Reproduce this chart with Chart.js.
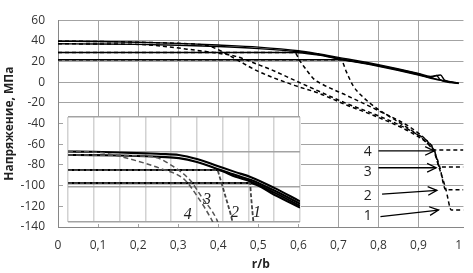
<!DOCTYPE html>
<html><head><meta charset="utf-8">
<script src="https://cdn.jsdelivr.net/npm/chart.js@4/dist/chart.umd.min.js"></script>
<style>
html,body{margin:0;padding:0;background:#fff;overflow:hidden;}
#wrap{position:relative;width:473px;height:273px;}
#main{position:absolute;left:0;top:0;}
#insetBox{position:absolute;left:63px;top:116px;width:238px;height:108px;background:#fff;}
#inset{position:absolute;left:0;top:0;}
</style></head><body>
<div id="wrap">
<canvas id="main" width="473" height="273"></canvas>
<div id="insetBox"><canvas id="inset" width="238" height="108"></canvas></div>
</div>
<script>
// ---------- main chart data (r/b, stress MPa) ----------
const xTicks = [0,0.1,0.2,0.3,0.4,0.5,0.6,0.7,0.8,0.9,1];
const yTicks = [-140,-120,-100,-80,-60,-40,-20,0,20,40,60];

// solid curves
const rS4 = [0,0.1,0.2,0.3,0.4,0.5,0.6,0.65,0.7,0.8,0.9,0.93,0.955,0.965,1];
const vS4 = [39.7,39.4,38.7,37.6,36,34,30.5,27.5,24,17,8.5,5.5,7,2,-0.8];
const rS3 = [0,0.1,0.2,0.3,0.4,0.5,0.6,0.65,0.7,0.8,0.9,0.93,0.945,0.955,1];
const vS3 = [37.2,37,36.6,35.8,34.5,32.5,29.5,26.8,23,16.3,8,4.5,6.5,2,-1];
const rS2 = [0,0.59,0.65,0.7,0.8,0.9,0.94,1];
const vS2 = [28.8,28.8,26.2,22.6,16,7.5,3.5,-1];
const rS1 = [0,0.7,0.72,0.8,0.9,0.94,1];
const vS1 = [21.8,21.8,21,15.5,7,3,-1.2];

// dashed curves
const rD4 = [0,0.1,0.2,0.3,0.35,0.383,0.42,0.45,0.5,0.59,0.65,0.72,0.8,0.883,0.925,0.937,1.012];
const vD4 = [39.7,39.4,38.7,37.6,36.6,34.3,27.5,21,10.5,-3,-10.5,-22,-34,-49,-60,-65.5,-65.5];
const rD3 = [0,0.1,0.2,0.25,0.322,0.4,0.444,0.5,0.533,0.59,0.65,0.72,0.8,0.883,0.93,0.94,0.953,1.012];
const vD3 = [37.2,37,36.6,35.3,32,28,25,17,12,2,-8.5,-20.5,-32.5,-47.5,-60,-66,-82,-82];
const rD2 = [0,0.59,0.605,0.62,0.639,0.66,0.72,0.8,0.883,0.924,0.94,0.953,0.968,1.012];
const vD2 = [28.8,28.8,20,12,3,-2,-12.7,-27.5,-44.5,-58,-67,-82,-104,-104];
const rD1 = [0,0.706,0.72,0.737,0.761,0.8,0.85,0.907,0.927,0.937,0.951,0.968,0.982,1.012];
const vD1 = [21.8,21.8,10,-3.6,-14.2,-26.4,-38.5,-53.6,-61,-65.5,-82,-103,-123.6,-123.6];

// annotation labels & arrows (main)
const mainLabels = ['4','3','2','1'];
const mainLabelR = [0.773,0.773,0.773,0.773];
const mainLabelV = [-67.3,-87.3,-110,-129];
const arrowFromR = [0.80,0.80,0.809,0.805];
const arrowFromV = [-66.4,-82.7,-108.2,-130];
const arrowToR = [0.939,0.944,0.946,0.95];
const arrowToV = [-66.4,-82.7,-104.5,-123.6];

// ---------- inset data ----------
const iS4r = [0,0.1,0.2,0.3,0.36,0.43,0.5,0.58,0.65,0.71,0.8,0.9];
const iS4v = [40.3,40.1,39.7,39.2,38.9,38.3,36,32,28.5,25.6,19.5,11.8];
const iS3r = [0,0.1,0.2,0.3,0.36,0.43,0.5,0.58,0.65,0.71,0.8,0.9];
const iS3v = [38.3,38.2,38,37.6,37.2,36.5,34.3,30.3,26.8,24,18,10.5];
const iS2r = [0,0.578,0.65,0.71,0.8,0.9];
const iS2v = [29.7,29.7,25.8,23,16.8,9.3];
const iS1r = [0,0.706,0.8,0.9];
const iS1v = [22.2,22.2,15.6,8.2];
const iD4r = [0,0.12,0.2,0.3,0.36,0.45,0.5,0.558,0.565];
const iD4v = [40.3,39.8,37.5,33.5,30.5,24.5,15,1.1,-1];
const iD3r = [0,0.3,0.35,0.4,0.473,0.52,0.578,0.583];
const iD3v = [38.3,37.6,36.5,32.5,24,14,1.1,-1];
const iD2r = [0,0.578,0.59,0.61,0.63,0.64];
const iD2v = [29.7,29.7,25,15,5,-1];
const iD1r = [0,0.706,0.71,0.716,0.72];
const iD1v = [22.2,22.2,15,5,-1];
const insetLabels = ['4','3','2','1'];
const insetLabelR = [0.465,0.539,0.648,0.733];
const insetLabelV = [4,12.5,5,5];

// ---------- helpers ----------
const pts = (r,v) => r.map((x,i)=>({x:x,y:v[i]}));
const FONT = "'Open Sans', 'DejaVu Sans', sans-serif";

function solid(r,v,w){return {data:pts(r,v),borderColor:'#000',borderWidth:w,pointRadius:0,showLine:true,fill:false,cubicInterpolationMode:'monotone'};}
function dashed(r,v,w,c,d){return {data:pts(r,v),borderColor:c,borderWidth:w,borderDash:d,pointRadius:0,showLine:true,fill:false,cubicInterpolationMode:'monotone'};}

function arrow(ctx,x1,y1,x2,y2){
  ctx.beginPath();ctx.moveTo(x1,y1);ctx.lineTo(x2,y2);ctx.stroke();
  const a=Math.atan2(y2-y1,x2-x1),L=10,W=0.45;
  ctx.beginPath();
  ctx.moveTo(x2-L*Math.cos(a-W),y2-L*Math.sin(a-W));
  ctx.lineTo(x2,y2);
  ctx.lineTo(x2-L*Math.cos(a+W),y2-L*Math.sin(a+W));
  ctx.stroke();
}

const mainAnno = {
  id:'mainAnno',
  afterDatasetsDraw(chart){
    const {ctx,scales:{x,y}}=chart;
    ctx.save();
    ctx.strokeStyle='#000';ctx.lineWidth=1.3;ctx.setLineDash([]);
    for(let i=0;i<arrowFromR.length;i++){
      arrow(ctx,x.getPixelForValue(arrowFromR[i]),y.getPixelForValue(arrowFromV[i]),
               x.getPixelForValue(arrowToR[i]),y.getPixelForValue(arrowToV[i]));
    }
    ctx.fillStyle='#222';ctx.font="14px "+FONT;ctx.textAlign='center';ctx.textBaseline='middle';
    for(let i=0;i<mainLabels.length;i++){
      ctx.fillText(mainLabels[i],x.getPixelForValue(mainLabelR[i]),y.getPixelForValue(mainLabelV[i]));
    }
    ctx.restore();
  }
};

const insetAnno = {
  id:'insetAnno',
  afterDatasetsDraw(chart){
    const {ctx,scales:{x,y}}=chart;
    ctx.save();
    ctx.fillStyle='#222';ctx.font="italic 16px 'Liberation Serif', serif";ctx.textAlign='center';ctx.textBaseline='middle';
    for(let i=0;i<insetLabels.length;i++){
      ctx.fillText(insetLabels[i],x.getPixelForValue(insetLabelR[i]),y.getPixelForValue(insetLabelV[i]));
    }
    ctx.restore();
  }
};

const fmt = v => v===0?'0':(Math.abs(v-1)<1e-9?'1':v.toFixed(1).replace('.',','));

new Chart(document.getElementById('main'),{
  type:'scatter',
  data:{datasets:[
    dashed(rD4,vD4,1.5,'#000',[4,3]),
    dashed(rD3,vD3,1.5,'#000',[4,3]),
    dashed(rD2,vD2,1.5,'#000',[4,3]),
    dashed(rD1,vD1,1.5,'#000',[4,3]),
    solid(rS4,vS4,1.4),
    solid(rS3,vS3,1.4),
    solid(rS2,vS2,1.4),
    solid(rS1,vS1,1.4)
  ]},
  options:{
    responsive:false,animation:false,devicePixelRatio:1,
    layout:{padding:{left:0,right:0,top:7,bottom:0}},
    plugins:{legend:{display:false},tooltip:{enabled:false}},
    scales:{
      x:{type:'linear',min:0,max:1.0122,
        afterBuildTicks:s=>{s.ticks=xTicks.map(v=>({value:v}));},
        afterFit:s=>{s.height=46;},
        grid:{color:c=>(c.tick&&Math.abs(c.tick.value-1)<1e-9)?'rgba(0,0,0,0)':'#a3a3a3',lineWidth:1,drawTicks:false},
        border:{color:'#868686',width:1},
        ticks:{padding:11,color:'#333',font:{family:FONT,size:12},callback:fmt,maxRotation:0,autoSkip:false},
        title:{display:true,text:'r/b',color:'#222',font:{family:FONT,size:12,weight:'bold'},padding:{top:0,bottom:1}}
      },
      y:{type:'linear',min:-140,max:60,
        afterBuildTicks:s=>{s.ticks=yTicks.map(v=>({value:v}));},
        afterFit:s=>{s.width=58;},
        grid:{color:'#a3a3a3',lineWidth:1,drawTicks:false},
        border:{color:'#868686',width:1},
        ticks:{padding:13,color:'#333',font:{family:FONT,size:12},autoSkip:false},
        title:{display:true,text:'Напряжение, МПа',color:'#222',font:{family:FONT,size:12,weight:'bold'},padding:{top:2,bottom:0}}
      }
    }
  },
  plugins:[mainAnno]
});

new Chart(document.getElementById('inset'),{
  type:'scatter',
  data:{datasets:[
    dashed(iD4r,iD4v,1.5,'#555',[5,3]),
    dashed(iD3r,iD3v,1.5,'#555',[5,3]),
    dashed(iD2r,iD2v,1.8,'#444',[4,2]),
    dashed(iD1r,iD1v,1.8,'#444',[4,2]),
    solid(iS4r,iS4v,2.1),
    solid(iS3r,iS3v,2.1),
    solid(iS2r,iS2v,2.1),
    solid(iS1r,iS1v,2.1)
  ]},
  options:{
    responsive:false,animation:false,devicePixelRatio:1,
    layout:{padding:{left:5,right:1,top:1,bottom:2}},
    plugins:{legend:{display:false},tooltip:{enabled:false}},
    scales:{
      x:{type:'linear',min:0,max:0.9,
        afterBuildTicks:s=>{const t=[];for(let i=0;i<=9;i++)t.push({value:i/10});s.ticks=t;},
        afterFit:s=>{s.height=0;},
        grid:{color:'#d2d2d2',lineWidth:1.5,drawTicks:false},
        border:{display:false},
        ticks:{display:false}
      },
      y:{type:'linear',min:0,max:60,
        afterBuildTicks:s=>{s.ticks=[0,20,40,60].map(v=>({value:v}));},
        afterFit:s=>{s.width=0;},
        grid:{color:'#a3a3a3',lineWidth:1.5,drawTicks:false},
        border:{display:false},
        ticks:{display:false}
      }
    }
  },
  plugins:[insetAnno]
});
</script>
</body></html>
